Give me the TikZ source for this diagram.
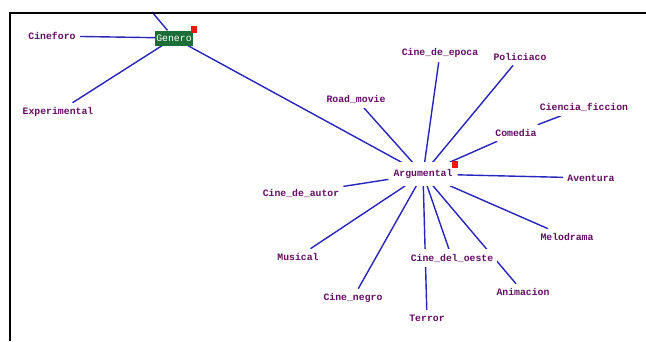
\documentclass[tikz,border=0pt]{standalone}
\usepackage{fontspec}
\newfontfamily\lblfont{Liberation Mono}
\definecolor{lblpurple}{RGB}{100,14,100}
\definecolor{edgeblue}{RGB}{38,38,190}
\definecolor{rootgreen}{RGB}{28,110,56}
\definecolor{markred}{RGB}{240,20,20}
\pgfdeclarelayer{background}
\pgfsetlayers{background,main}
\tikzset{
  term/.style={text=lblpurple, fill=white, inner xsep=4pt, inner ysep=4.5pt, font=\lblfont\bfseries\fontsize{9.8}{10}\selectfont},
  root/.style={fill=rootgreen, text=white, minimum width=38pt, minimum height=15pt, inner sep=0pt, font=\lblfont\fontsize{9.8}{10}\selectfont},
  link/.style={draw=edgeblue, line width=1.4pt},
  marker/.style={fill=markred, draw=none, minimum width=6pt, minimum height=7pt, inner sep=0pt},
  frameline/.style={draw=black, line width=2.4pt}
}
\begin{document}
\begin{tikzpicture}[x=1pt, y=-1pt]
\useasboundingbox (0,0) rectangle (646,341);

% category root
\node[root] (genero) at (174,38) {Genero};
\node[marker] (gmark) at (194,29.5) {};
\coordinate (upper) at (152,12);

% terms under Genero
\node[term] (cineforo) at (52,36) {Cineforo};
\node[term] (experimental) at (58,112) {Experimental};
\node[term, inner xsep=5pt, inner ysep=7pt] (argumental) at (423,174) {Argumental};
\node[marker] (amark) at (455,164.5) {};

% terms under Argumental
\node[term] (epoca) at (440,53) {Cine\_de\_epoca};
\node[term] (road) at (356,99) {Road\_movie};
\node[term] (policiaco) at (520,57) {Policiaco};
\node[term] (ciencia) at (584,107) {Ciencia\_ficcion};
\node[term] (comedia) at (516,133) {Comedia};
\node[term] (aventura) at (591,178) {Aventura};
\node[term] (autor) at (301,193) {Cine\_de\_autor};
\node[term] (musical) at (298,257) {Musical};
\node[term] (negro) at (353,298) {Cine\_negro};
\node[term] (oeste) at (452,258) {Cine\_del\_oeste};
\node[term] (terror) at (427,318) {Terror};
\node[term] (animacion) at (523,292) {Animacion};
\node[term] (melodrama) at (567,237) {Melodrama};

\begin{pgfonlayer}{background}
  \fill[white] (0,0) rectangle (646,341);
  \draw[link] (genero) -- (upper);
  \draw[link] (genero) -- (cineforo);
  \draw[link] (genero) -- (experimental);
  \draw[link] (genero) -- (argumental);
  \draw[link] (argumental) -- (epoca);
  \draw[link] (argumental) -- (road);
  \draw[link] (argumental) -- (policiaco);
  \draw[link] (argumental) -- (comedia);
  \draw[link] (comedia) -- (ciencia);
  \draw[link] (argumental) -- (aventura);
  \draw[link] (argumental) -- (autor);
  \draw[link] (argumental) -- (musical);
  \draw[link] (argumental) -- (negro);
  \draw[link] (argumental) -- (oeste);
  \draw[link] (argumental) -- (terror);
  \draw[link] (argumental) -- (animacion);
  \draw[link] (argumental) -- (melodrama);
\end{pgfonlayer}

% frame edges (top and left)
\draw[frameline] (8.8,13) -- (646,13);
\draw[frameline] (10,11.8) -- (10,341);
\end{tikzpicture}
\end{document}
